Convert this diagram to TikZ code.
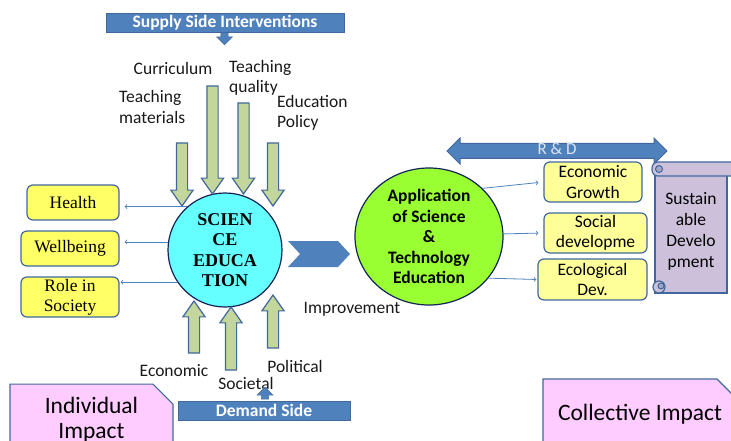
\documentclass[tikz,border=0pt]{standalone}
\usepackage{fontspec}
\setmainfont{Carlito}
\newfontfamily\serifface{Liberation Serif}
\usetikzlibrary{shapes.arrows,shapes.misc,shapes.geometric}
\definecolor{barblue}{HTML}{4F81BD}
\definecolor{bluedge}{HTML}{41689C}
\definecolor{arrgreen}{HTML}{C3D69B}
\definecolor{yelleft}{HTML}{FFFF66}
\definecolor{yelright}{HTML}{FFFF99}
\definecolor{cyanball}{HTML}{66FFFF}
\definecolor{limeball}{HTML}{99FF33}
\definecolor{navy}{HTML}{14245A}
\definecolor{lavender}{HTML}{CCC0DA}
\definecolor{pinkbox}{HTML}{FFCCFF}
\definecolor{rdtext}{HTML}{DCE6F2}
\begin{document}
\begin{tikzpicture}[x=1pt,y=-1pt,font=\fontsize{17.5}{20.5}\selectfont]
        \tikzstyle{banner}=[rectangle,draw=bluedge,fill=barblue,text=white,font=\fontsize{17.5}{20}\selectfont\bfseries,inner sep=0pt]
        \tikzstyle{fat}=[single arrow,draw=bluedge,fill=arrgreen,line width=1.2pt,inner sep=5pt,single arrow head extend=5.5pt,single arrow tip angle=70]
        \tikzstyle{down}=[fat,shape border rotate=270]
        \tikzstyle{up}=[fat,shape border rotate=90]
        \tikzstyle{notch}=[single arrow,fill=barblue,draw=bluedge,inner sep=3pt,single arrow head extend=4pt,minimum width=16pt]
        \tikzstyle{ybox}=[rectangle,rounded corners=6pt,draw=bluedge,line width=1.2pt,align=center,inner sep=2pt]
        \tikzstyle{ball}=[draw=navy,line width=1.2pt,align=center,inner sep=0pt]
        \tikzstyle{info}=[draw=barblue,line width=0.8pt,->,shorten >=5pt]
        \tikzstyle{lab}=[align=left,inner sep=0pt,text=black!90]
        \tikzstyle{impact}=[chamfered rectangle,chamfered rectangle corners=north east,chamfered rectangle xsep=10pt,chamfered rectangle ysep=10pt,draw=bluedge,line width=1.2pt,fill=pinkbox,align=center,font=\fontsize{23.5}{25}\selectfont]
        \clip (0,0) rectangle (731,441);
        % supply side
        \node [notch,shape border rotate=270,minimum height=12pt] (sdn) at (224.5,37) {};
        \node [banner,minimum width=238pt,minimum height=19pt] (supply) at (225,22.5) {Supply Side Interventions};
        \node [lab,anchor=center] (cur) at (173,68) {Curriculum};
        \node [lab,anchor=west] (tq) at (229,78) {Teaching\\quality};
        \node [lab,anchor=west] (tm) at (119,107) {Teaching\\materials};
        \node [lab,anchor=west] (ep) at (277,113) {Education\\Policy};
        % science education
        \node [ball,circle,fill=cyanball,minimum size=114pt,font=\fontsize{18}{20.5}\selectfont\serifface\bfseries] (sci) at (225,250) {SCIEN\\CE\\EDUCA\\TION};
        \node [down,minimum height=63pt,minimum width=21pt] (a1) at (182,170.5) {};
        \node [down,minimum height=108pt,minimum width=21pt] (a2) at (212.5,136) {};
        \node [down,minimum height=91pt,minimum width=21pt] (a3) at (243.5,144.5) {};
        \node [down,minimum height=63pt,minimum width=21pt] (a4) at (273,170.5) {};
        \node [up,minimum height=52pt,minimum width=21pt] (u1) at (194,331) {};
        \node [up,minimum height=63pt,minimum width=21pt] (u2) at (231,342.5) {};
        \node [up,minimum height=53pt,minimum width=21pt] (u3) at (273,325.5) {};
        % individual outcomes
        \node [ybox,fill=yelleft,minimum width=92pt,minimum height=35pt,font=\fontsize{17.5}{20}\selectfont\serifface] (health) at (73,202.5) {Health};
        \node [ybox,fill=yelleft,minimum width=98pt,minimum height=35pt,font=\fontsize{17.5}{20}\selectfont\serifface] (well) at (70,248.5) {Wellbeing};
        \node [ybox,fill=yelleft,minimum width=98pt,minimum height=40pt,font=\fontsize{17.5}{20}\selectfont\serifface] (role) at (70,297) {Role in\\Society};
        \draw [info] (sci.131) -- (sci.131 -| health.east);
        \draw [info] (sci.172) -- (sci.172 -| well.east);
        \draw [info,shorten >=1pt] (sci.214) -- (sci.214 -| role.east);
        % chevron
        \fill [barblue] (288,241) -- (338,241) -- (350,254) -- (338,267) -- (288,267) -- (300,254) -- cycle;
        % application
        \node [ball,ellipse,fill=limeball,minimum width=148pt,minimum height=137pt,font=\fontsize{17.5}{20.5}\selectfont\bfseries] (app) at (429,236.5) {Application\\of Science\\\&\\Technology\\Education};
        \node [lab,anchor=center] (imp) at (352,309) {Improvement};
        \node [double arrow,draw=bluedge,fill=barblue,line width=1pt,minimum height=220pt,minimum width=25pt,inner xsep=2pt,inner ysep=1pt,text height=10pt,text depth=2pt,double arrow head extend=5.5pt,text=rdtext,font=\fontsize{17}{18}\selectfont] (rd) at (557,151) {R \& D};
        \node [ybox,fill=yelright,minimum width=98pt,minimum height=40pt] (eco) at (593,182) {Economic\\Growth};
        \node [ybox,fill=yelright,minimum width=103pt,minimum height=40pt] (soc) at (595.5,233) {Social\\developme};
        \node [ybox,fill=yelright,minimum width=109pt,minimum height=41pt] (ecol) at (592.5,279.5) {Ecological\\Dev.};
        \draw [info] (app.42) -- (eco.west);
        \draw [info] (app.2) -- (soc.west);
        \draw [info,shorten >=1pt] (app.-35) -- (ecol.west);
        % scroll
        \node [rectangle,draw=bluedge,line width=1.2pt,fill=lavender,minimum width=72pt,minimum height=123pt,align=center,font=\fontsize{17.5}{21}\selectfont] (sus) at (691,231.5) {Sustain\\able\\Develo\\pment};
        \filldraw [draw=bluedge,line width=1.2pt,fill=lavender,rounded corners=6pt] (652,162) rectangle (740,176);
        \filldraw [draw=bluedge,line width=1pt,fill=lavender!70!bluedge] (659,169) circle (3.5pt);
        \filldraw [draw=bluedge,line width=1.2pt,fill=lavender] (659,287) circle (6pt);
        \filldraw [draw=bluedge,line width=1pt,fill=lavender!70!bluedge] (661,286) circle (3pt);
        % demand side
        \node [lab,anchor=center] (econ) at (174,371) {Economic};
        \node [lab,anchor=center] (socl) at (246,383) {Societal};
        \node [lab,anchor=center] (pol) at (295,366) {Political};
        \node [notch,shape border rotate=90,minimum height=12pt] (dup) at (265,395) {};
        \node [banner,minimum width=172pt,minimum height=19pt] (demand) at (264,410.5) {Demand Side};
        % impact boxes
        \node [impact,minimum width=163pt,minimum height=70pt] (ind) at (91.5,420) {Individual\\Impact};
        \node [impact,minimum width=194pt,minimum height=70pt] (col) at (640,414) {Collective Impact};
\end{tikzpicture}
\end{document}
